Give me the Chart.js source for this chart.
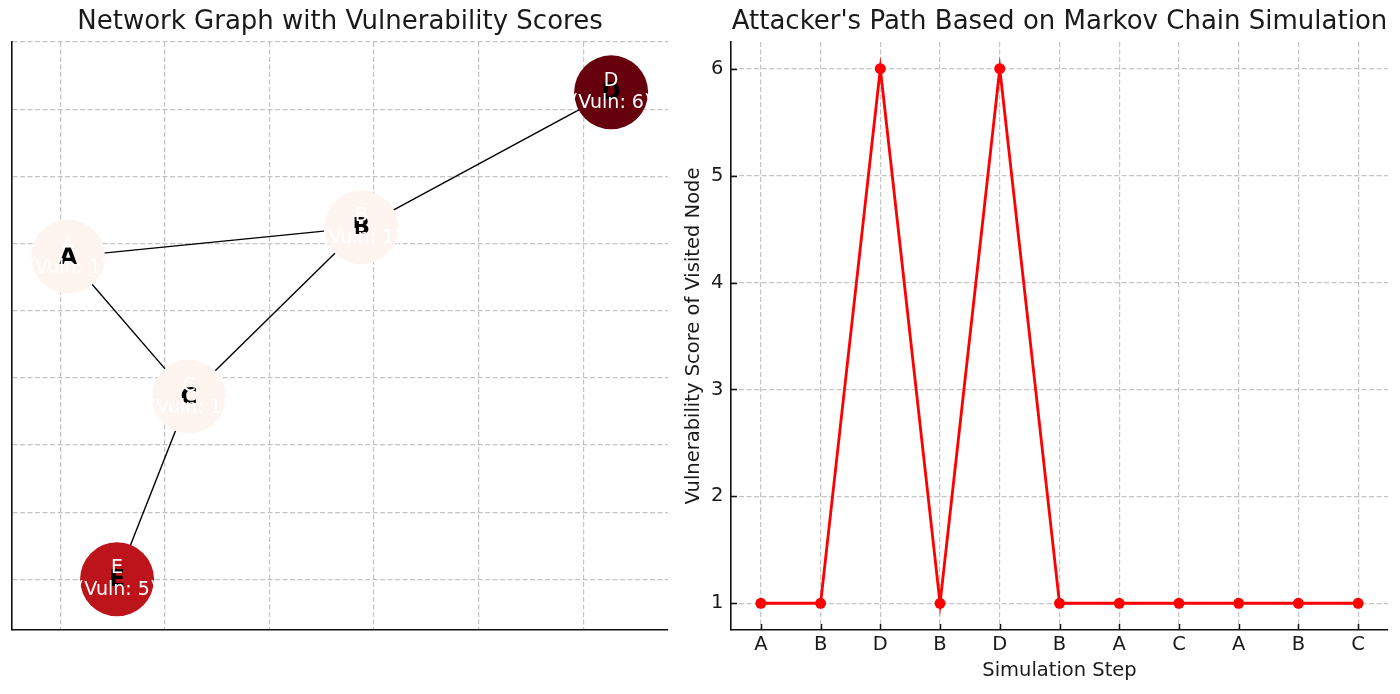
<!DOCTYPE html>
<html>
<head>
<meta charset="utf-8">
<script src="https://cdn.jsdelivr.net/npm/chart.js@4.4.1/dist/chart.umd.min.js"></script>
<style>
html,body{margin:0;padding:0;background:#ffffff;}
#wrap{position:relative;width:1400px;height:694px;overflow:hidden;background:#ffffff;}
#c1{position:absolute;left:0;top:0;}
#c2{position:absolute;left:640px;top:0;}
</style>
</head>
<body>
<div id="wrap">
<canvas id="c1" width="700" height="694"></canvas>
<canvas id="c2" width="760" height="694"></canvas>
</div>
<script>
// ---------- Data: network graph ----------
const nodeNames = ['A', 'B', 'C', 'D', 'E'];
const nodeX = [-0.731, -0.030, -0.442, 0.567, -0.614];
const nodeY = [0.161, 0.248, -0.256, 0.650, -0.800];
const vulnScores = [1, 1, 1, 6, 5];
const edgeFrom = ['A', 'A', 'B', 'B', 'C'];
const edgeTo   = ['B', 'C', 'C', 'D', 'E'];
const graphGridX = [-0.75, -0.5, -0.25, 0, 0.25, 0.5];
const graphGridY = [-0.8, -0.6, -0.4, -0.2, 0, 0.2, 0.4, 0.6, 0.8];

// ---------- Data: Markov chain path ----------
const stepLabels = ['A', 'B', 'D', 'B', 'D', 'B', 'A', 'C', 'A', 'B', 'C'];
const pathScores = [1, 1, 6, 1, 6, 1, 1, 1, 1, 1, 1];
const scoreTicks = [1, 2, 3, 4, 5, 6];

const leftTitle = 'Network Graph with Vulnerability Scores';
const rightTitle = "Attacker's Path Based on Markov Chain Simulation";
const xAxisTitle = 'Simulation Step';
const yAxisTitle = 'Vulnerability Score of Visited Node';

// ---------- Styling ----------
const FONT = "'DejaVu Sans', 'Liberation Sans', sans-serif";
const TXT = '#1a1a1a';
const GRID = 'rgba(176,176,176,0.75)';
const SPINE = '#111111';
Chart.defaults.font.family = FONT;
Chart.defaults.color = TXT;

// matplotlib "Reds" colormap
const REDS = ['#fff5f0','#fee0d2','#fcbba1','#fc9272','#fb6a4a','#ef3b2c','#cb181d','#a50f15','#67000d'];
function hexToRgb(h){return [parseInt(h.slice(1,3),16),parseInt(h.slice(3,5),16),parseInt(h.slice(5,7),16)];}
function reds(t){
  t = Math.max(0, Math.min(1, t));
  const p = t * (REDS.length - 1);
  const i = Math.min(Math.floor(p), REDS.length - 2);
  const f = p - i;
  const a = hexToRgb(REDS[i]), b = hexToRgb(REDS[i+1]);
  const c = a.map((v,k)=>Math.round(v + (b[k]-v)*f));
  return `rgb(${c[0]},${c[1]},${c[2]})`;
}
const vMin = Math.min(...vulnScores), vMax = Math.max(...vulnScores);
const nodeColors = vulnScores.map(v => reds((v - vMin) / (vMax - vMin)));
const idx = n => nodeNames.indexOf(n);

const edgeDatasets = edgeFrom.map((a, k) => {
  const b = edgeTo[k];
  return {
    type: 'scatter',
    data: [{x: nodeX[idx(a)], y: nodeY[idx(a)]}, {x: nodeX[idx(b)], y: nodeY[idx(b)]}],
    showLine: true,
    borderColor: '#000000',
    borderWidth: 1.4,
    pointRadius: 0,
    pointHoverRadius: 0,
    order: 2
  };
});

const nodeDataset = {
  type: 'scatter',
  data: nodeNames.map((n, i) => ({x: nodeX[i], y: nodeY[i]})),
  pointRadius: 37,
  pointHoverRadius: 37,
  pointBackgroundColor: nodeColors,
  pointBorderWidth: 0,
  borderWidth: 0,
  order: 1
};

const nodeLabelPlugin = {
  id: 'nodeLabels',
  afterDatasetsDraw(chart) {
    const {ctx, scales: {x, y}} = chart;
    ctx.save();
    ctx.textAlign = 'center';
    ctx.textBaseline = 'middle';
    nodeNames.forEach((n, i) => {
      const px = x.getPixelForValue(nodeX[i]);
      const py = y.getPixelForValue(nodeY[i]);
      ctx.fillStyle = '#000000';
      ctx.font = `bold 23px ${FONT}`;
      ctx.fillText(n, px, py + 1);
      ctx.fillStyle = '#ffffff';
      ctx.font = `19px ${FONT}`;
      ctx.fillText(n, px, py - 11);
      ctx.fillText(`(Vuln: ${vulnScores[i]})`, px, py + 11);
    });
    ctx.restore();
  }
};

new Chart(document.getElementById('c1'), {
  type: 'scatter',
  data: {datasets: [...edgeDatasets, nodeDataset]},
  options: {
    responsive: false,
    animation: false,
    events: [],
    layout: {autoPadding: false, padding: {left: 0, right: 32, top: 0, bottom: 0}},
    plugins: {
      legend: {display: false},
      tooltip: {enabled: false},
      title: {
        display: true, text: leftTitle, fullSize: false, color: TXT,
        font: {family: FONT, size: 26, weight: 'normal'},
        padding: {top: 7, bottom: 3.8}
      }
    },
    scales: {
      x: {
        type: 'linear', min: -0.8651, max: 0.7029,
        afterBuildTicks: s => { s.ticks = graphGridX.map(v => ({value: v})); },
        afterFit: s => { s.height = 64; },
        ticks: {display: false},
        grid: {color: GRID, lineWidth: 1.2, drawTicks: false},
        border: {display: true, color: SPINE, width: 1.6, dash: [5, 2.5]}
      },
      y: {
        type: 'linear', min: -0.951, max: 0.8,
        afterBuildTicks: s => { s.ticks = graphGridY.map(v => ({value: v})); },
        afterFit: s => { s.width = 12; },
        ticks: {display: false},
        grid: {color: GRID, lineWidth: 1.2, drawTicks: false},
        border: {display: true, color: SPINE, width: 1.6, dash: [5, 2.5]}
      }
    }
  },
  plugins: [nodeLabelPlugin]
});

const inwardTicks = {
  id: 'inwardTicks',
  afterDatasetsDraw(chart) {
    const {ctx, chartArea: a, scales: {x, y}} = chart;
    ctx.save();
    ctx.strokeStyle = SPINE;
    ctx.lineWidth = 1.5;
    x.ticks.forEach((t, i) => {
      const px = Math.round(x.getPixelForTick(i)) + 0.5;
      ctx.beginPath(); ctx.moveTo(px, a.bottom); ctx.lineTo(px, a.bottom - 6); ctx.stroke();
    });
    y.ticks.forEach((t, i) => {
      const py = Math.round(y.getPixelForTick(i)) + 0.5;
      ctx.beginPath(); ctx.moveTo(a.left, py); ctx.lineTo(a.left + 6, py); ctx.stroke();
    });
    ctx.restore();
  }
};

new Chart(document.getElementById('c2'), {
  type: 'line',
  data: {
    labels: stepLabels,
    datasets: [{
      data: pathScores,
      borderColor: '#ff0000',
      backgroundColor: '#ff0000',
      borderWidth: 2.8,
      pointRadius: 5.5,
      pointHoverRadius: 5.5,
      pointBackgroundColor: '#ff0000',
      pointBorderWidth: 0,
      tension: 0,
      clip: false
    }]
  },
  options: {
    responsive: false,
    animation: false,
    events: [],
    layout: {autoPadding: false, padding: {left: 0, right: 12, top: 0, bottom: 0}},
    plugins: {
      legend: {display: false},
      tooltip: {enabled: false},
      title: {
        display: true, text: rightTitle, fullSize: false, color: TXT,
        font: {family: FONT, size: 26, weight: 'normal'},
        padding: {top: 7, bottom: 3.8}
      }
    },
    scales: {
      x: {
        type: 'category',
        offset: true,
        afterFit: s => { s.height = 64; },
        ticks: {color: TXT, font: {family: FONT, size: 19.5}, padding: 3, maxRotation: 0, autoSkip: false},
        grid: {color: GRID, lineWidth: 1.2, drawTicks: false, offset: false},
        border: {display: true, color: SPINE, width: 1.6, dash: [5, 2.5]},
        title: {display: true, text: xAxisTitle, color: TXT, font: {family: FONT, size: 19.5}, padding: {top: 0, bottom: 11.3}}
      },
      y: {
        type: 'linear', min: 0.75, max: 6.25,
        afterBuildTicks: s => { s.ticks = scoreTicks.map(v => ({value: v})); },
        afterFit: s => { s.width = 91; },
        ticks: {color: TXT, font: {family: FONT, size: 19.5}, padding: 7.5},
        grid: {color: GRID, lineWidth: 1.2, drawTicks: false},
        border: {display: true, color: SPINE, width: 1.6, dash: [5, 2.5]},
        title: {display: true, text: yAxisTitle, color: TXT, font: {family: FONT, size: 19.5}, padding: {top: 42.3, bottom: 0}}
      }
    }
  },
  plugins: [inwardTicks]
});
</script>
</body>
</html>
